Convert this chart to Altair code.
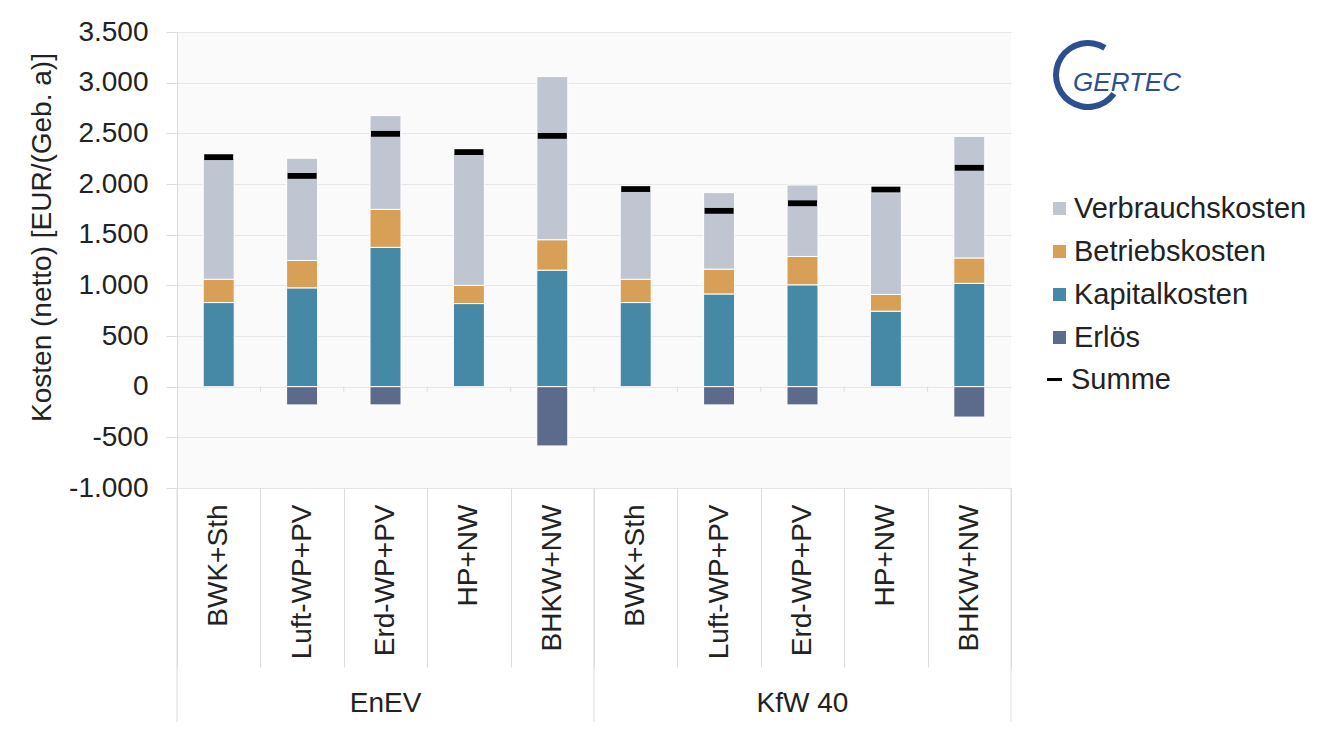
import altair as alt
import pandas as pd

# ---------------- data ----------------
groups = ["EnEV"] * 5 + ["KfW 40"] * 5
systems = ["BWK+Sth", "Luft-WP+PV", "Erd-WP+PV", "HP+NW", "BHKW+NW"] * 2
kapital = [830, 975, 1375, 820, 1150, 830, 915, 1005, 745, 1020]
betrieb = [230, 270, 375, 180, 300, 230, 245, 280, 165, 250]
verbrauch = [1190, 1010, 925, 1300, 1610, 870, 755, 705, 1005, 1200]
erloes = [0, -180, -180, 0, -585, 0, -180, -180, 0, -300]
summe = [2265, 2080, 2495, 2315, 2475, 1950, 1735, 1810, 1945, 2160]

series_names = ["Verbrauchskosten", "Betriebskosten", "Kapitalkosten", "Erlös"]
series_colors = ["#c0c5d2", "#d89f56", "#4589a7", "#5c6a8b"]
y_ticks = [-1000, -500, 0, 500, 1000, 1500, 2000, 2500, 3000, 3500]

# ---------------- layout constants ----------------
W, H = 834, 456
LEFT, TOP = 177, 32
BAND = W / 10
FONT = "Liberation Sans"
TXT = "#222222"
GRID = "#dcdcdc"

keys = [f"{g}|{s}" for g, s in zip(groups, systems)]

rows = []
for i, k in enumerate(keys):
    for name, vals, o in [("Kapitalkosten", kapital, 1), ("Betriebskosten", betrieb, 2),
                          ("Verbrauchskosten", verbrauch, 3), ("Erlös", erloes, 0)]:
        if vals[i] != 0:
            rows.append({"key": k, "series": name, "value": vals[i], "ord": o})
bars_df = pd.DataFrame(rows)
sum_df = pd.DataFrame({"key": keys, "value": summe, "label": ["Summe"] * len(keys)})
zero_df = pd.DataFrame({"key": keys[:-1], "value": [0] * 9, "v2": [-50] * 9})
left_div_df = pd.DataFrame({"key": [keys[0], keys[5]]})
right_div_df = pd.DataFrame({"key": [keys[-1]]})
glab_df = pd.DataFrame({"key": [keys[2], keys[7]], "group": ["EnEV", "KfW 40"]})
one_df = pd.DataFrame({"a": [1]})

xscale = alt.Scale(domain=keys, paddingInner=0, paddingOuter=0)
yscale = alt.Scale(domain=[-1000, 3500], nice=False, zero=False)

dash_path = "M-1,-0.2L1,-0.2L1,0.2L-1,0.2Z"
Y_TITLE = "Kosten (netto) [EUR/(Geb. a)]"

bars = alt.Chart(bars_df).mark_bar(size=31, stroke="white", strokeWidth=1).encode(
    x=alt.X("key:N", scale=xscale, sort=keys, title=None,
            axis=alt.Axis(labelExpr="split(datum.value, '|')[1]", labelAngle=270,
                          labelFontSize=28, labelFont=FONT, labelColor=TXT,
                          tickBand="extent", tickSize=179, tickColor=GRID, tickWidth=1,
                          labelPadding=-163, domain=False, grid=False, labelLimit=300)),
    y=alt.Y("value:Q", scale=yscale, stack="zero", title=Y_TITLE,
            axis=alt.Axis(values=y_ticks,
                          labelExpr="(datum.value < 0 ? '-' : '') + replace(format(abs(datum.value), ','), ',', '.')",
                          labelFontSize=28, labelFont=FONT, labelColor=TXT,
                          titleFontSize=28, titleFont=FONT, titleColor=TXT, titleFontWeight="normal",
                          titlePadding=12, titleY=205, tickSize=11, labelPadding=18,
                          tickColor=GRID, domainColor=GRID, gridColor="#e6e6e6")),
    color=alt.Color("series:N", scale=alt.Scale(domain=series_names, range=series_colors),
                    legend=alt.Legend(title=None, orient="none", legendX=868, legendY=162,
                                      symbolType="square", symbolSize=169, symbolStrokeWidth=0,
                                      labelFontSize=29, labelFont=FONT, labelColor=TXT,
                                      labelOffset=0, rowPadding=13, labelLimit=400)),
    order=alt.Order("ord:Q"),
)

sums = alt.Chart(sum_df).mark_point(filled=True, size=841, opacity=1, color="black").encode(
    x=alt.X("key:N", scale=xscale, sort=keys, title=None),
    y=alt.Y("value:Q", scale=yscale, title=Y_TITLE),
    shape=alt.Shape("label:N", scale=alt.Scale(domain=["Summe"], range=[dash_path]),
                    legend=alt.Legend(title=None, orient="none", legendX=863, legendY=333,
                                      symbolSize=225, symbolFillColor="black",
                                      symbolStrokeWidth=0, labelLimit=400,
                                      labelFontSize=29, labelFont=FONT, labelColor=TXT,
                                      labelOffset=2)),
)

zero_ticks = alt.Chart(zero_df).mark_rule(xOffset=BAND / 2, color=GRID, strokeWidth=1).encode(
    x=alt.X("key:N", scale=xscale, sort=keys, title=None),
    y=alt.Y("value:Q", scale=yscale, title=Y_TITLE),
    y2="v2:Q",
)

left_div = alt.Chart(left_div_df).mark_rule(xOffset=-BAND / 2, color=GRID, strokeWidth=1).encode(
    x=alt.X("key:N", scale=xscale, sort=keys, title=None),
    y=alt.value(H), y2=alt.value(H + 234),
)
right_div = alt.Chart(right_div_df).mark_rule(xOffset=BAND / 2, color=GRID, strokeWidth=1).encode(
    x=alt.X("key:N", scale=xscale, sort=keys, title=None),
    y=alt.value(H), y2=alt.value(H + 234),
)

glabels = alt.Chart(glab_df).mark_text(fontSize=28, font=FONT, color=TXT,
                                       align="center", baseline="middle").encode(
    x=alt.X("key:N", scale=xscale, sort=keys, title=None),
    y=alt.value(H + 216),
    text="group:N",
)

logo_text = alt.Chart(one_df).mark_text(text="GERTEC", font=FONT,
                                        fontStyle="italic", fontSize=26, color="#2d4f8e",
                                        align="center", baseline="middle").encode(
    x=alt.value(950), y=alt.value(51),
)
logo_arc = alt.Chart(one_df).mark_arc(theta=2.2, theta2=6.84, radius=35, radius2=29,
                                      color="#2d4f8e").encode(
    x=alt.value(911), y=alt.value(43),
)

chart = alt.layer(bars, zero_ticks, sums, left_div, right_div, glabels, logo_arc, logo_text).properties(
    width=W, height=H,
    autosize=alt.AutoSizeParams(type="none"),
    padding={"left": LEFT, "top": TOP, "right": 1339 - LEFT - W, "bottom": 744 - TOP - H},
    background="white",
).configure_view(fill="#fafafa", stroke=None)

chart.save("out.html", embed_options={"renderer": "svg", "actions": False})
